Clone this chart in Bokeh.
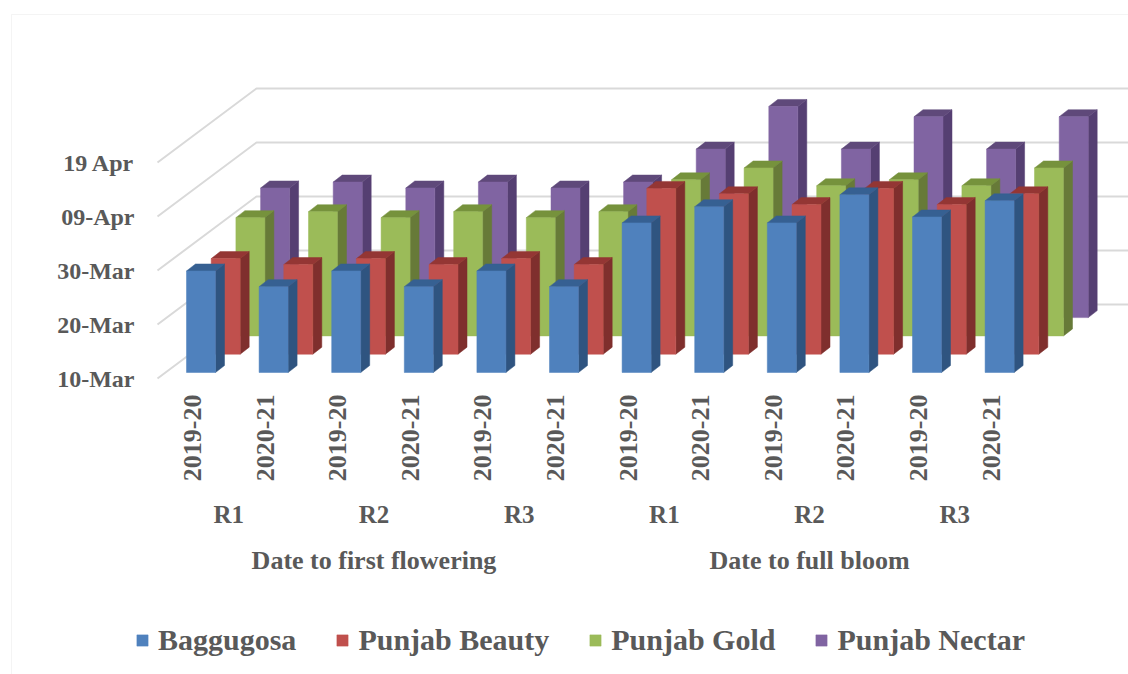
import math
from bokeh.plotting import figure
from bokeh.embed import file_html
from bokeh.resources import INLINE
from bokeh.models import LinearAxis, FixedTicker, Legend, LegendItem, Range1d, PolyAnnotation

# Data: days after 10 March
years = ["2019-20", "2020-21"] * 6
reps = ["R1", "R2", "R3", "R1", "R2", "R3"]
stages = ["Date to first flowering", "Date to full bloom"]
tick_values = [0, 10, 20, 30, 40]
tick_labels = ["10-Mar", "20-Mar", "30-Mar", "09-Apr", "19 Apr"]
baggugosa = [18.8, 15.9, 18.8, 15.9, 18.8, 15.9, 27.7, 30.7, 27.7, 32.9, 28.8, 31.8]
punjab_beauty = [17.7, 16.6, 17.7, 16.6, 17.7, 16.6, 30.7, 29.7, 27.7, 30.7, 27.7, 29.7]
punjab_gold = [21.9, 23.0, 21.9, 23.0, 21.9, 23.0, 28.9, 31.1, 27.8, 28.9, 27.8, 31.1]
punjab_nectar = [24.0, 25.1, 24.0, 25.1, 24.0, 25.1, 31.2, 39.1, 31.2, 37.2, 31.2, 37.2]

FONT = "Liberation Serif"
TXT = "#595959"
GRID = "#d9d9d9"
W, H = 1128, 674
PX_X, PX_Y = 72.6, 5.4           # pixels per category / per day
X0, Y0 = 192, 378                # pixels of category 0 and of day 0

p = figure(width=W, height=H, output_backend="svg", toolbar_location=None,
           x_axis_type=None, y_axis_type=None,
           x_range=Range1d(-X0 / PX_X, (W - X0) / PX_X),
           y_range=Range1d((Y0 - H) / PX_Y, Y0 / PX_Y),
           min_border=0, outline_line_color=None)
p.xgrid.visible = False
p.ygrid.visible = False


def dx(px):
    return px / PX_X


def dy(px):
    return px / PX_Y


def xpos(px):
    return (px - X0) / PX_X


def ypos(px):
    return (Y0 - px) / PX_Y


def style(ax, size):
    ax.axis_line_color = None
    ax.major_tick_line_color = None
    ax.minor_tick_line_color = None
    ax.major_label_text_font = FONT
    ax.major_label_text_font_style = "bold"
    ax.major_label_text_color = TXT
    ax.major_label_text_font_size = size


ya = LinearAxis(ticker=FixedTicker(ticks=tick_values), fixed_location=xpos(142),
                major_label_overrides=dict(zip(tick_values, tick_labels)))
style(ya, "24px")
ya.major_label_standoff = 2
p.add_layout(ya, "left")

idx = list(range(len(years)))
xa = LinearAxis(ticker=FixedTicker(ticks=idx), fixed_location=ypos(386),
                major_label_overrides=dict(zip(idx, years)))
style(xa, "26px")
xa.major_label_orientation = math.pi / 2
xa.major_label_standoff = 2
p.add_layout(xa, "below")

rep_pos = [0.5 + 2 * k for k in range(len(reps))]
ra = LinearAxis(ticker=FixedTicker(ticks=rep_pos), fixed_location=ypos(492),
                major_label_overrides=dict(zip(rep_pos, reps)))
style(ra, "25px")
ra.major_label_standoff = 2
p.add_layout(ra, "below")

stage_pos = [2.5, 8.5]
sa = LinearAxis(ticker=FixedTicker(ticks=stage_pos), fixed_location=ypos(537),
                major_label_overrides=dict(zip(stage_pos, stages)))
style(sa, "26px")
sa.major_label_standoff = 2
p.add_layout(sa, "below")

# Back walls and gridlines
WALL_DX, WALL_DY = 99, 74
WALL_X = 157
xs, ys = [], []
for t in tick_values:
    xs.append([xpos(WALL_X), xpos(WALL_X + WALL_DX), xpos(W + 10)])
    ys.append([t, t + dy(WALL_DY), t + dy(WALL_DY)])
p.multi_line(xs, ys, line_color=GRID, line_width=2)

# 3-D bars, back to front
series = [
    ("Punjab Nectar", punjab_nectar, "#8064a2", "#553f72", "#5f497a", 3),
    ("Punjab Gold", punjab_gold, "#9bbb59", "#677a38", "#76923c", 2),
    ("Punjab Beauty", punjab_beauty, "#c0504d", "#7f2f2d", "#943634", 1),
    ("Baggugosa", baggugosa, "#4f81bd", "#2f5480", "#366092", 0),
]
BAR_W, SIDE_DX, SIDE_DY = 29, 9, 7
STEP_DX, STEP_DY = 24.7, 18.3
FRONT_DX, FRONT_DY = -6, 6

renderers = {}
for name, vals, front, side, top, depth in series:
    off_x = dx(FRONT_DX + depth * STEP_DX)
    off_y = dy(FRONT_DY + depth * STEP_DY)
    w, sx, sy = dx(BAR_W), dx(SIDE_DX), dy(SIDE_DY)
    left = [i + off_x for i in idx]
    right = [l + w for l in left]
    bottom = [off_y for _ in idx]
    tops = [off_y + v for v in vals]
    side_x = [[r, r + sx, r + sx, r] for r in right]
    side_y = [[off_y, off_y + sy, t + sy, t] for t in tops]
    top_x = [[l, l + sx, r + sx, r] for l, r in zip(left, right)]
    top_y = [[t, t + sy, t + sy, t] for t in tops]
    p.patches(side_x, side_y, fill_color=side, line_color=side, line_width=0.5)
    p.patches(top_x, top_y, fill_color=top, line_color=top, line_width=0.5)
    renderers[name] = p.quad(left=left, right=right, bottom=bottom, top=tops,
                             fill_color=front, line_color=front, line_width=0.5)

legend = Legend(
    items=[LegendItem(label=n, renderers=[renderers[n]])
           for n in ["Baggugosa", "Punjab Beauty", "Punjab Gold", "Punjab Nectar"]],
    orientation="horizontal", location=(135, 17),
    label_text_font=FONT, label_text_font_style="bold", label_text_color=TXT,
    label_text_font_size="30px", glyph_width=14, glyph_height=14,
    label_standoff=9, spacing=39, padding=0, margin=0,
    border_line_color=None, background_fill_alpha=0)
p.add_layout(legend)

# Thin outer border of the picture
border = PolyAnnotation(xs=[11, 11, W + 50, W + 50], ys=[-50, H - 14, H - 14, -50],
                        xs_units="screen", ys_units="screen",
                        line_color=GRID, line_width=1, fill_alpha=0)
p.add_layout(border)

open("out.html", "w").write(file_html(p, INLINE))
